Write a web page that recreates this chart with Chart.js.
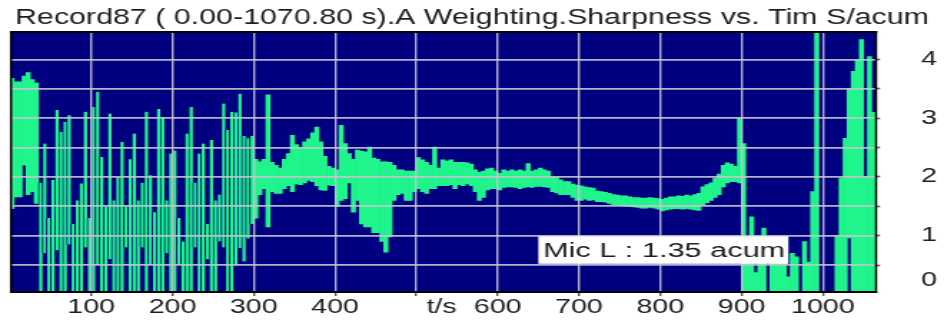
<!DOCTYPE html>
<html>
<head>
<meta charset="utf-8">
<script src="https://cdn.jsdelivr.net/npm/chart.js@4.4.1/dist/chart.umd.min.js"></script>
<style>
  html, body { margin: 0; padding: 0; background: #fff; }
  /* the reference is a horizontally stretched screenshot, so draw narrow and stretch */
  #wrap { position: absolute; left: 0; top: 0; width: 660px; height: 322px;
          transform: scaleX(1.4303); transform-origin: 0 0; }
</style>
</head>
<body>
<div id="wrap"><canvas id="chart"></canvas></div>
<script>
const titleText = "Record87 ( 0.00-1070.80 s).A Weighting.Sharpness vs. Tim S/acum";
const binSeconds = 5;

// min / max sharpness (acum) in each 5 s bin
const sharpLow = [
  1.46, 1.66, 1.66, 2.2, 1.7, 1.75, 1.55, 0, 0.7, 0,
  0, 0.75, 0, 0, 0.85, 0, 0, 0, 0.8, 0,
  0, 0.5, 0, 0, 0.6, 0, 0, 0, 0.8, 0,
  0, 0, 0.8, 0, 0.5, 0, 0, 0, 0.7, 0,
  0, 0.5, 0, 0, 0, 0.8, 0, 0, 0.6, 0,
  0, 0.9, 0.8, 0, 0, 0.5, 0.79, 0.56, 0.95, 1.2,
  1.3, 1.7, 1.8, 1.15, 1.75, 1.72, 1.72, 1.8, 1.85, 1.75,
  1.88, 1.87, 1.9, 1.94, 1.92, 1.85, 1.78, 1.77, 1.86, 1.85,
  1.5, 1.6, 1.63, 1.9, 1.4, 1.6, 1.2, 1.15, 1.15, 1.05,
  1.05, 0.9, 0.72, 0.98, 1.6, 1.7, 1.72, 1.6, 1.6, 1.75,
  1.8, 1.75, 1.72, 1.8, 1.8, 1.85, 1.85, 1.85, 1.87, 1.8,
  1.87, 1.85, 1.88, 1.85, 1.75, 1.6, 1.65, 1.78, 1.8, 1.8,
  1.78, 1.82, 1.83, 1.83, 1.82, 1.8, 1.82, 1.83, 1.82, 1.84,
  1.84, 1.83, 1.82, 1.75, 1.73, 1.7, 1.7, 1.7, 1.65, 1.6,
  1.6, 1.62, 1.6, 1.61, 1.58, 1.58, 1.57, 1.55, 1.53, 1.52,
  1.52, 1.5, 1.5, 1.49, 1.48, 1.47, 1.47, 1.48, 1.47, 1.45,
  1.42, 1.44, 1.45, 1.46, 1.46, 1.45, 1.46, 1.45, 1.44, 1.43,
  1.52, 1.56, 1.6, 1.65, 1.7, 1.83, 1.9, 1.92, 1.92, 1.9,
  0, 0, 0, 0, 0, 0, null, 0, 0, 0,
  0, 0, 0, 0, null, 0, 0, 0, 0, null,
  null, null, null, 0, 0, 0, 0.96, 0, 0, 0,
  0, 0, 0
];
const sharpHigh = [
  3.68, 3.62, 3.62, 3.72, 3.78, 3.66, 3.6, 1.9, 2.57, 1.3,
  1.95, 3.14, 2.77, 2.94, 3.05, 1.2, 1.6, 1.89, 3.11, 1.3,
  3.19, 3.45, 2.34, 1.5, 3.08, 1.6, 2.0, 2.6, 1.5, 2.3,
  2.74, 1.6, 1.9, 3.11, 2.03, 1.4, 3.16, 3.02, 1.6, 2.4,
  2.45, 1.3, 0.9, 2.74, 3.19, 1.9, 2.4, 2.57, 1.2, 2.63,
  1.6, 1.7, 3.25, 2.8, 3.11, 3.1, 3.42, 2.7, 2.66, 2.7,
  2.3, 2.26, 2.3, 3.4, 2.25, 2.2, 2.15, 2.3, 2.4, 2.71,
  2.55, 2.5, 2.6, 2.65, 2.75, 2.85, 2.6, 2.35, 2.18, 2.15,
  2.12, 2.88, 2.57, 2.4, 2.3, 2.46, 2.44, 2.43, 2.51, 2.32,
  2.3, 2.26, 2.26, 2.25, 2.2, 2.12, 2.12, 2.1, 2.1, 2.1,
  2.33, 2.29, 2.25, 2.2, 2.51, 2.15, 2.29, 2.27, 2.29, 2.25,
  2.25, 2.25, 2.24, 2.22, 2.12, 2.08, 2.1, 2.14, 2.15, 2.1,
  2.06, 2.12, 2.1, 2.12, 2.1, 2.12, 2.1, 2.23, 2.1, 2.12,
  2.15, 2.12, 2.1, 2.0, 2.0, 1.95, 1.92, 1.92, 1.88, 1.86,
  1.85, 1.83, 1.82, 1.81, 1.76, 1.75, 1.74, 1.72, 1.7, 1.69,
  1.68, 1.68, 1.66, 1.65, 1.65, 1.64, 1.64, 1.65, 1.64, 1.63,
  1.62, 1.64, 1.66, 1.66, 1.68, 1.67, 1.69, 1.68, 1.7, 1.72,
  1.83, 1.87, 1.9, 1.98, 2.05, 2.2, 2.24, 2.22, 2.18, 3.0,
  2.57, 0.55, 1.32, 0.37, 0.55, 1.13, null, 0.55, 0.55, 0.55,
  0.55, 0.3, 0.7, 0.64, null, 0.9, 0.55, 1.75, 4.5, null,
  null, null, null, 1.0, 1.98, 2.66, 3.51, 3.8, 4.0, 4.34,
  2.0, 4.05, 3.1
];

const xTicks = [100, 200, 300, 400, 500, 600, 700, 800, 900, 1000];
const xTickLabels = ["100", "200", "300", "400", "", "600", "700", "800", "900", "1000"];
const xUnit = { text: "t/s", at: 531 };
const yGrid = [0.5, 1, 1.5, 2, 2.5, 3, 3.5, 4];
const yLabelValues = [0.24, 1, 2, 3, 4];
const yLabels = ["0", "1", "2", "3", "4"];
const micNote = { text: "Mic L : 1.35 acum", from: 650, to: 957.7, top: 0.99, bottom: 0.52 };
// the noisy start of the record is drawn as separate spikes
const spikyBins = { from: 7, to: 60 };

const fontFamily = '"Liberation Sans", Arial, sans-serif';
const textColor = "#1e1e1e";
const gridColor = "rgba(198, 198, 206, 0.9)";
const plotColor = "#000080";
const bandColor = "#20f58c";

Chart.defaults.font.family = fontFamily;

const points = sharpLow.map((lo, i) => ({
  x: (i + 0.5) * binSeconds,
  y: lo === null ? null : [lo, sharpHigh[i]],
}));

const plotFrame = {
  id: "plotFrame",
  beforeDatasetsDraw(chart) {
    const { ctx, chartArea: a } = chart;
    ctx.save();
    ctx.fillStyle = plotColor;
    ctx.fillRect(a.left, a.top, a.right - a.left, a.bottom - a.top);
    ctx.restore();
  },
  afterDraw(chart) {
    const { ctx, chartArea: a, scales } = chart;
    ctx.save();
    ctx.strokeStyle = "#000";
    ctx.lineWidth = 2.2;
    ctx.beginPath();
    ctx.moveTo(a.left - 0.75, a.top);
    ctx.lineTo(a.right + 0.75, a.top);
    ctx.moveTo(a.left - 0.75, a.bottom);
    ctx.lineTo(a.right + 0.75, a.bottom);
    ctx.stroke();
    ctx.lineWidth = 1.5;
    ctx.beginPath();
    ctx.moveTo(a.left, a.top - 1.1);
    ctx.lineTo(a.left, a.bottom + 1.1);
    ctx.moveTo(a.right, a.top - 1.1);
    ctx.lineTo(a.right, a.bottom + 1.1);
    ctx.stroke();

    // axis unit sits between the 400 and 600 labels
    ctx.fillStyle = textColor;
    ctx.font = "20px " + fontFamily;
    ctx.textAlign = "center";
    ctx.textBaseline = "middle";
    ctx.fillText(xUnit.text, scales.x.getPixelForValue(xUnit.at), scales.x.top + 15);

    // white note box
    const x0 = scales.x.getPixelForValue(micNote.from);
    const x1 = scales.x.getPixelForValue(micNote.to);
    const y0 = scales.y.getPixelForValue(micNote.top);
    const y1 = scales.y.getPixelForValue(micNote.bottom);
    ctx.fillStyle = "#fff";
    ctx.fillRect(x0, y0, x1 - x0, y1 - y0);
    ctx.fillStyle = textColor;
    ctx.textAlign = "left";
    ctx.textBaseline = "alphabetic";
    const w = ctx.measureText(micNote.text).width;
    const room = x1 - x0 - 5.6;
    ctx.translate(x0 + 3.3, y1 - 6.7);
    ctx.scale(room / w, 1);
    ctx.fillText(micNote.text, 0, 0);
    ctx.restore();
  },
};

new Chart(document.getElementById("chart"), {
  type: "bar",
  data: {
    datasets: [
      {
        label: "Sharpness",
        data: points,
        backgroundColor: bandColor,
        borderColor: plotColor,
        borderSkipped: false,
        borderWidth: (c) =>
          c.dataIndex >= spikyBins.from && c.dataIndex < spikyBins.to
            ? { left: 0.9, right: 0, top: 0, bottom: 0 }
            : 0,
        barPercentage: 1,
        categoryPercentage: 1,
        grouped: false,
      },
    ],
  },
  options: {
    responsive: true,
    maintainAspectRatio: false,
    animation: false,
    layout: { padding: 0 },
    plugins: {
      legend: { display: false },
      tooltip: { enabled: false },
      title: {
        display: true,
        text: titleText,
        color: textColor,
        font: { size: 21.25, weight: "normal" },
        padding: { top: 5, bottom: 1.5 },
      },
    },
    scales: {
      x: {
        type: "linear",
        position: "bottom",
        min: 1.35,
        max: 1065.5,
        offset: false,
        afterBuildTicks: (s) => { s.ticks = xTicks.map((v) => ({ value: v })); },
        afterFit: (s) => { s.height = 30; },
        grid: {
          z: 1,
          offset: false,
          color: gridColor,
          lineWidth: 1.4,
          drawTicks: true,
          tickLength: 4,
          tickColor: "#555",
          tickWidth: 1.4,
        },
        border: { display: false },
        ticks: {
          autoSkip: false,
          maxRotation: 0,
          padding: -1,
          color: textColor,
          font: { size: 20 },
          callback: (v) => xTickLabels[xTicks.indexOf(v)] ?? "",
        },
      },
      y: {
        type: "linear",
        position: "left",
        min: 0.04,
        max: 4.47,
        afterBuildTicks: (s) => { s.ticks = yGrid.map((v) => ({ value: v })); },
        afterFit: (s) => { s.width = 7.7; },
        grid: { z: 1, color: gridColor, lineWidth: 1.8, drawTicks: false },
        border: { display: false },
        ticks: { display: false },
      },
      yr: {
        type: "linear",
        position: "right",
        min: 0.04,
        max: 4.47,
        afterBuildTicks: (s) => {
          s.ticks = [...yLabelValues.slice(0, 1), ...yGrid].map((v) => ({ value: v }));
        },
        afterFit: (s) => {
          s.width = 47.5;
          s.paddingTop = 0;
          s.paddingBottom = 0;
        },
        grid: {
          z: 1,
          drawOnChartArea: false,
          drawTicks: true,
          tickLength: 2.8,
          tickWidth: 1.6,
          tickColor: (c) => (yGrid.includes(c.tick.value) ? "#555" : "rgba(0,0,0,0)"),
        },
        border: { display: false },
        ticks: {
          autoSkip: false,
          padding: 28.7,
          color: textColor,
          font: { size: 20 },
          callback: (v) => {
            const k = yLabelValues.indexOf(v);
            return k < 0 ? "" : yLabels[k];
          },
        },
      },
    },
  },
  plugins: [plotFrame],
});
</script>
</body>
</html>
